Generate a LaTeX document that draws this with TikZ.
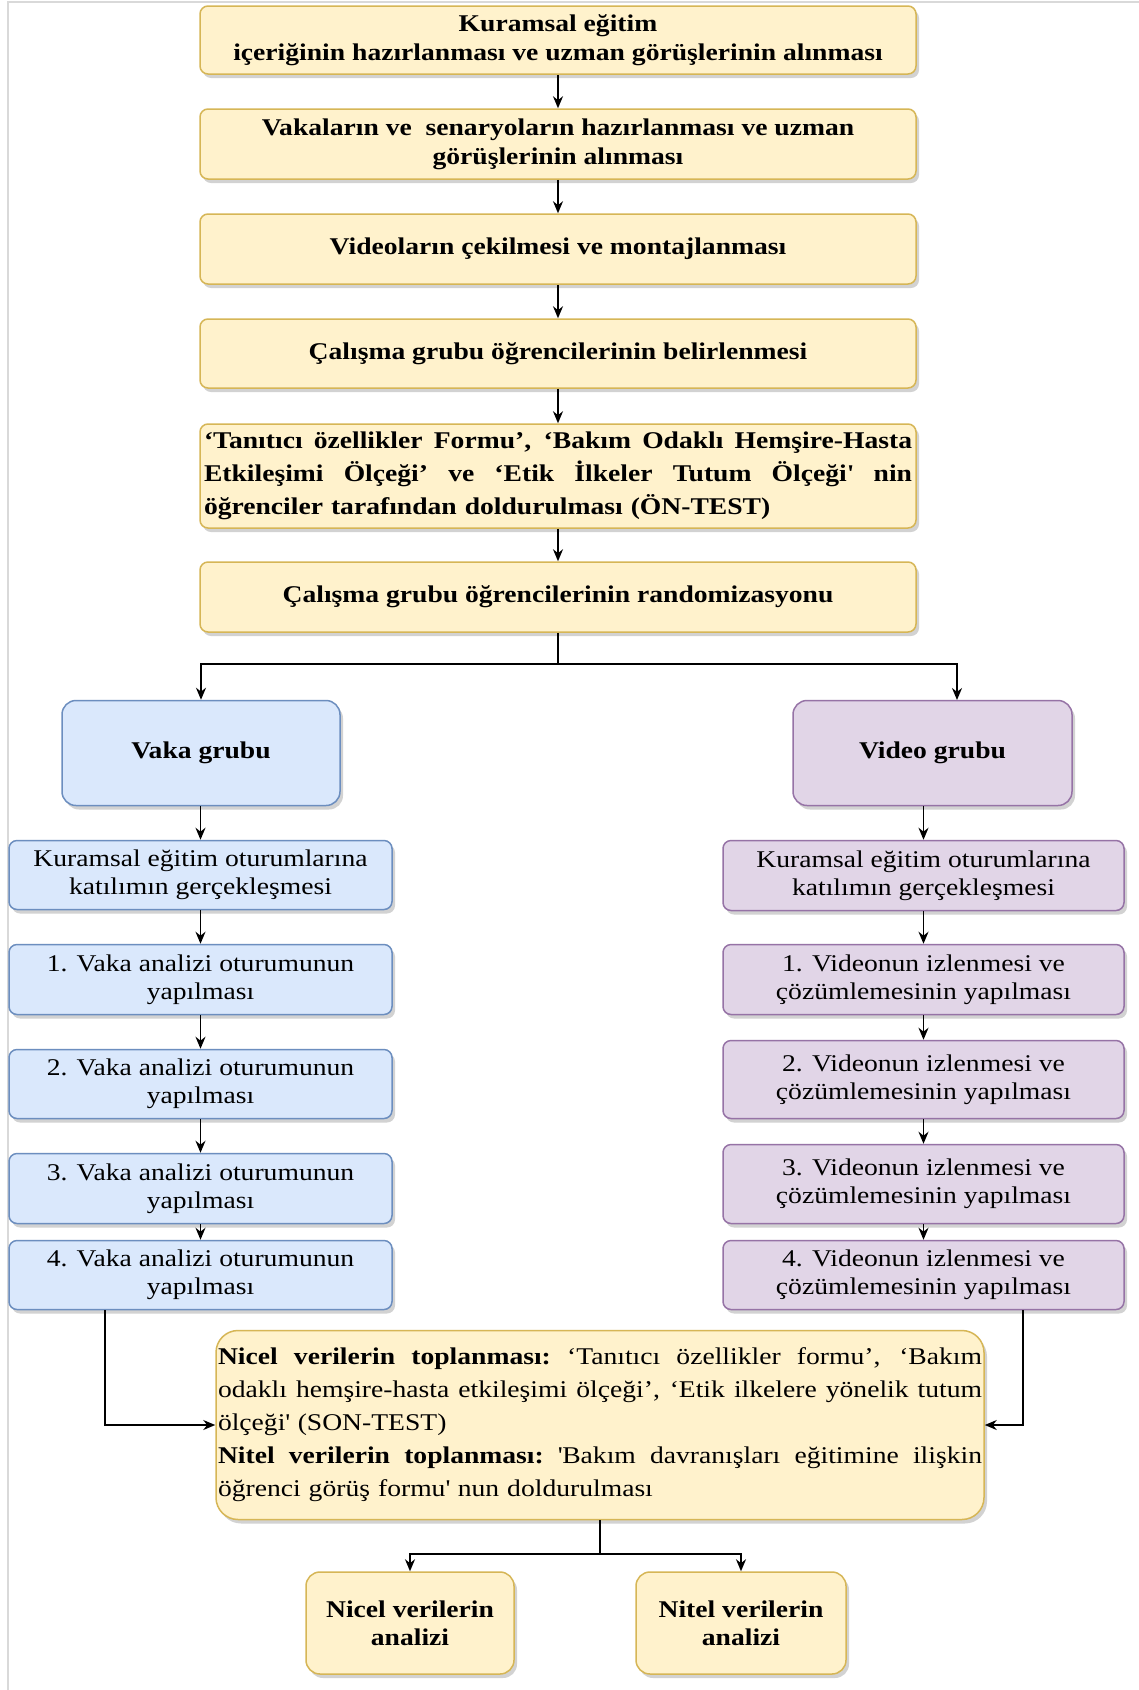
\documentclass[tikz,border=0pt]{standalone}
\usepackage{fontspec}
\setmainfont{Liberation Serif}[FakeStretch=1.15]
\usetikzlibrary{arrows.meta,shadows}
\definecolor{yfill}{HTML}{FFF2CC}\definecolor{ydraw}{HTML}{D6B656}
\definecolor{bfill}{HTML}{DAE8FC}\definecolor{bdraw}{HTML}{6C8EBF}
\definecolor{pfill}{HTML}{E1D5E7}\definecolor{pdraw}{HTML}{9673A6}
\newcommand\jline[2]{\leavevmode\hbox to #1{\spaceskip=0.25em plus 1fil\relax\xspaceskip=0.25em plus 1fil\relax #2}}
\tikzset{
  box/.style={rounded corners=8pt, line width=1.5pt, align=center, inner sep=0pt,
    font=\fontsize{24}{28}\selectfont,
    drop shadow={shadow xshift=3pt,shadow yshift=-4pt,opacity=0.25,fill=black!70}},
  ybox/.style={box, fill=yfill, draw=ydraw},
  bbox/.style={box, fill=bfill, draw=bdraw},
  pbox/.style={box, fill=pfill, draw=pdraw},
  topbox/.style={ybox, minimum width=716pt, font=\bfseries\fontsize{24}{29}\selectfont},
  lbox/.style={bbox, minimum width=383pt},
  rbox/.style={pbox, minimum width=401pt},
  arr/.style={line width=1.6pt, -{Stealth[length=12pt,width=10pt]}},
  ln/.style={line width=1.6pt},
}
\begin{document}
\begin{tikzpicture}[x=1pt,y=-1pt]
\useasboundingbox (0,0) rectangle (1139,1690);
\fill[white] (0,0) rectangle (1139,1690);
\draw[black!15, line width=2pt] (8,1690) -- (8,2) -- (1139,2);

% top chain
\node[topbox, minimum height=68pt] (b1) at (558,40) {Kuramsal eğitim\\içeriğinin hazırlanması ve uzman görüşlerinin alınması};
\node[topbox, minimum height=70pt] (b2) at (558,144) {Vakaların ve\ \ senaryoların hazırlanması ve uzman\\görüşlerinin alınması};
\node[topbox, minimum height=70pt] (b3) at (558,249) {Videoların çekilmesi ve montajlanması};
\node[topbox, minimum height=69pt] (b4) at (558,353.5) {Çalışma grubu öğrencilerinin belirlenmesi};
\node[topbox, minimum height=104pt, text width=708pt, align=left, font=\bfseries\fontsize{24}{33}\selectfont] (b5) at (558,476)
  {\jline{708pt}{‘Tanıtıcı özellikler Formu’, ‘Bakım Odaklı Hemşire-Hasta}\\
   \jline{708pt}{Etkileşimi Ölçeği’ ve ‘Etik İlkeler Tutum Ölçeği\textquotesingle{} nin}\\
   öğrenciler tarafından doldurulması (ÖN-TEST)};
\node[topbox, minimum height=70pt] (b6) at (558,597) {Çalışma grubu öğrencilerinin randomizasyonu};

\draw[arr] (b1) -- (b2);
\draw[arr] (b2) -- (b3);
\draw[arr] (b3) -- (b4);
\draw[arr] (b4) -- (b5);
\draw[arr] (b5) -- (b6);

% groups
\node[bbox, rounded corners=14pt, minimum width=278pt, minimum height=105pt, font=\bfseries\fontsize{24}{28}\selectfont] (vaka) at (201,753) {Vaka grubu};
\node[pbox, rounded corners=14pt, minimum width=279pt, minimum height=105pt, font=\bfseries\fontsize{24}{28}\selectfont] (video) at (932.5,753) {Video grubu};

\coordinate (sp) at (558,664);
\coordinate (vtop) at (957,700);
\draw[ln] (b6.south) -- (sp);
\draw[arr] (sp) -| (vaka.north);
\draw[arr] (sp) -| (vtop);

% left column
\node[lbox, minimum height=69pt] (L0) at (200.5,875) {Kuramsal eğitim oturumlarına\\katılımın gerçekleşmesi};
\node[lbox, minimum height=70pt] (L1) at (200.5,979.5) {1. Vaka analizi oturumunun\\yapılması};
\node[lbox, minimum height=69pt] (L2) at (200.5,1084) {2. Vaka analizi oturumunun\\yapılması};
\node[lbox, minimum height=70pt] (L3) at (200.5,1188.5) {3. Vaka analizi oturumunun\\yapılması};
\node[lbox, minimum height=69pt] (L4) at (200.5,1275) {4. Vaka analizi oturumunun\\yapılması};

\draw[arr] (vaka.south -| L0.north) -- (L0.north);
\draw[arr] (L0) -- (L1);
\draw[arr] (L1) -- (L2);
\draw[arr] (L2) -- (L3);
\draw[arr] (L3) -- (L4);

% right column
\node[rbox, minimum height=70pt] (R0) at (923.5,875.5) {Kuramsal eğitim oturumlarına\\katılımın gerçekleşmesi};
\node[rbox, minimum height=70pt] (R1) at (923.5,979.5) {1. Videonun izlenmesi ve\\çözümlemesinin yapılması};
\node[rbox, minimum height=78pt] (R2) at (923.5,1079.5) {2. Videonun izlenmesi ve\\çözümlemesinin yapılması};
\node[rbox, minimum height=79pt] (R3) at (923.5,1184) {3. Videonun izlenmesi ve\\çözümlemesinin yapılması};
\node[rbox, minimum height=69pt] (R4) at (923.5,1275) {4. Videonun izlenmesi ve\\çözümlemesinin yapılması};

\draw[arr] (video.south -| R0.north) -- (R0.north);
\draw[arr] (R0) -- (R1);
\draw[arr] (R1) -- (R2);
\draw[arr] (R2) -- (R3);
\draw[arr] (R3) -- (R4);

% big box
\node[ybox, rounded corners=22pt, minimum width=768pt, minimum height=189pt, text width=764pt, align=left, font=\fontsize{24}{33}\selectfont] (big) at (600,1425)
  {\jline{764pt}{\textbf{Nicel verilerin toplanması:} ‘Tanıtıcı özellikler formu’, ‘Bakım}\\
   \jline{764pt}{odaklı hemşire-hasta etkileşimi ölçeği’, ‘Etik ilkelere yönelik tutum}\\
   ölçeği\textquotesingle{} (SON-TEST)\\
   \jline{764pt}{\textbf{Nitel verilerin toplanması:} \textquotesingle Bakım davranışları eğitimine ilişkin}\\
   öğrenci görüş formu\textquotesingle{} nun doldurulması};

\coordinate (lc) at (105,1310);
\coordinate (rc) at (1023,1310);
\draw[arr] (lc) |- (big.west);
\draw[arr] (rc) |- (big.east);

% analysis
\node[ybox, rounded corners=14pt, minimum width=208pt, minimum height=102pt, font=\bfseries\fontsize{24}{28}\selectfont] (nicel) at (410,1623) {Nicel verilerin\\analizi};
\node[ybox, rounded corners=14pt, minimum width=210pt, minimum height=102pt, font=\bfseries\fontsize{24}{28}\selectfont] (nitel) at (741,1623) {Nitel verilerin\\analizi};

\coordinate (sp2) at (600,1554);
\draw[ln] (big.south) -- (sp2);
\draw[arr] (sp2) -| (nicel.north);
\draw[arr] (sp2) -| (nitel.north);
\end{tikzpicture}
\end{document}
